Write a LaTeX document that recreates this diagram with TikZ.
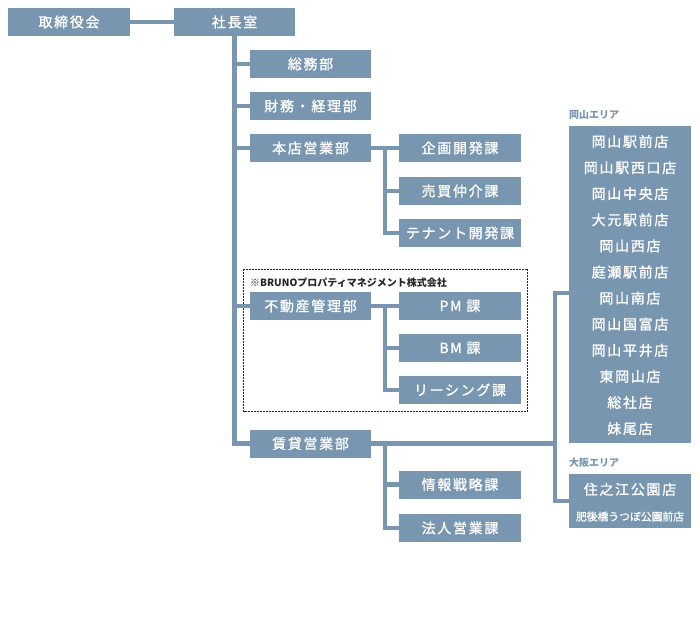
\documentclass[tikz,border=0pt]{standalone}
\usepackage{fontspec}
\newfontfamily\jpfont[LetterSpace=12, FakeBold=1.2]{Noto Sans CJK JP}
\newfontfamily\jpplain{Noto Sans CJK JP}
\newfontfamily\jpsmall[FakeBold=1]{Noto Sans CJK JP}
\usetikzlibrary{calc}
\definecolor{orgblue}{RGB}{120,150,176}
\begin{document}
\begin{tikzpicture}
    [
        x=1pt, y=-1pt,
        dept/.style={rectangle, fill=orgblue, text=white, inner sep=0pt,
            minimum width=121pt, minimum height=28pt,
            font=\jpfont\fontsize{14}{16}\selectfont},
        store/.style={text=white, inner sep=0pt,
            font=\jpfont\fontsize{14}{16}\selectfont},
        area/.style={anchor=west, inner sep=0pt, text=orgblue,
            font=\jpplain\bfseries\fontsize{10}{12}\selectfont},
        link/.style={draw=orgblue, line width=4.5pt},
    ]
    \useasboundingbox [fill=white] (0,0) rectangle (700,640);
    % top
    \node (board) at (69,22) [dept, minimum width=122pt] {取締役会};
    \node (ceo) at (234.5,22) [dept] {社長室};
    % departments
    \node (soumu) at (310.5,64) [dept] {総務部};
    \node (zaimu) at (310.5,106) [dept] {財務・経理部};
    \node (honten) at (310.5,148) [dept] {本店営業部};
    \node (kikaku) at (460,148) [dept, minimum width=122pt] {企画開発課};
    \node (baibai) at (460,191) [dept, minimum width=122pt] {売買仲介課};
    \node (tenant) at (460,233) [dept, minimum width=122pt] {テナント開発課};
    \node (fudosan) at (310.5,306) [dept] {不動産管理部};
    \node (pm) at (460,306) [dept, minimum width=122pt] {PM 課};
    \node (bm) at (460,348) [dept, minimum width=122pt] {BM 課};
    \node (leasing) at (460,390) [dept, minimum width=122pt] {リーシング課};
    \node (chintai) at (310.5,443.5) [dept] {賃貸営業部};
    \node (joho) at (460,484.5) [dept, minimum width=122pt] {情報戦略課};
    \node (hojin) at (460,528) [dept, minimum width=122pt] {法人営業課};
    % group company
    \draw [line width=0.8pt, dash pattern=on 1.6pt off 1.4pt, draw=black!85]
        (243.5,269) rectangle (527.5,411.5);
    \node (bruno) at (250,283) [area, text=black!85] {※BRUNOプロパティマネジメント株式会社};
    % areas
    \node (okayamalabel) at (569,115) [area] {岡山エリア};
    \node (okayama) at (630,284.5) [dept, minimum width=122pt, minimum height=317pt] {};
    \foreach \name [count=\i from 0] in {岡山駅前店,岡山駅西口店,岡山中央店,大元駅前店,
        岡山西店,庭瀬駅前店,岡山南店,岡山国富店,岡山平井店,東岡山店,総社店,妹尾店}
        \node (s\i) at (630,141.5+26.1*\i) [store] {\name};
    \node (osakalabel) at (569,463) [area] {大阪エリア};
    \node (osaka) at (630,501) [dept, minimum width=122pt, minimum height=54pt] {};
    \node (suminoe) at (630,489.3) [store] {住之江公園店};
    \node (higobashi) at (630,516.5) [store, font=\jpsmall\fontsize{10.8}{12}\selectfont] {肥後橋うつぼ公園前店};
    % connectors
    \draw [link] (board) -- (ceo);
    \draw [link] (ceo.south) |- (chintai.west);
    \foreach \d in {soumu,zaimu,honten,fudosan}
        \draw [link] (ceo.south |- \d.west) -- (\d.west);
    \draw [link] (honten) -- (kikaku);
    \draw [link] ($(honten.east)!.5!(kikaku.west)$) |- (baibai.west);
    \draw [link] ($(honten.east)!.5!(kikaku.west)$) |- (tenant.west);
    \draw [link] (fudosan) -- (pm);
    \draw [link] ($(fudosan.east)!.5!(pm.west)$) |- (bm.west);
    \draw [link] ($(fudosan.east)!.5!(pm.west)$) |- (leasing.west);
    \coordinate (split) at (555,443.5);
    \draw [link] (chintai.east) -- (split);
    \draw [link] ($(chintai.east)!.5!(joho.west |- chintai.east)$) |- (joho.west);
    \draw [link] ($(chintai.east)!.5!(joho.west |- chintai.east)$) |- (hojin.west);
    \draw [link] (okayama.west |- 0,293) -| (split) |- (osaka.west);
\end{tikzpicture}
\end{document}
